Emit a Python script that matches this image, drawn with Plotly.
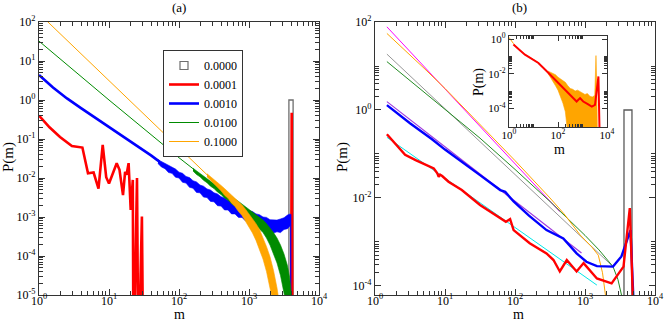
import plotly.graph_objects as go

# values, stored as log10(m), log10(P)
# -7 stands for "zero / below the axis"
legend_names = ["0.0000", "0.0001", "0.0010", "0.0100", "0.1000"]

# ---------------- panel (a) ----------------
bar_a_logm = [3.57, 3.63]
bar_a_logp = 0.0

red_a_logm = [0.00, 0.15, 0.30, 0.47, 0.62, 0.70, 0.78, 0.85, 0.91, 0.96, 1.00, 1.11, 1.15,
              1.20, 1.23, 1.25, 1.28, 1.31, 1.34, 1.35, 1.40, 1.42, 1.47, 1.49, 3.60, 3.61, 3.62]
red_a_logp = [-0.40, -0.70, -0.95, -1.18, -1.22, -1.88, -1.86, -2.27, -1.15, -1.98, -2.14, -1.62, -1.79,
              -2.44, -1.84, -1.92, -1.62, -2.82, -2.05, -7.0, -2.00, -7.0, -2.99, -7.0, -7.0, -0.33, -7.0]

blue_a_logm = [0.0, 0.1, 0.2, 0.3, 0.4, 0.6, 0.8, 1.0, 1.2, 1.4, 1.6, 1.72]
blue_a_logp = [0.64, 0.47, 0.32, 0.18, 0.04, -0.21, -0.45, -0.68, -0.92, -1.16, -1.42, -1.58]
# noisy part: (log m, upper edge, lower edge)
blue_a_band = [
    (1.70, -1.53, -1.63), (1.75, -1.58, -1.72), (1.80, -1.63, -1.76), (1.85, -1.67, -1.86),
    (1.90, -1.74, -1.88), (1.95, -1.77, -1.98), (2.00, -1.85, -2.00), (2.05, -1.88, -2.11),
    (2.10, -1.96, -2.13), (2.15, -1.99, -2.24), (2.20, -2.07, -2.26), (2.25, -2.10, -2.37),
    (2.30, -2.18, -2.38), (2.35, -2.21, -2.49), (2.40, -2.28, -2.50), (2.45, -2.31, -2.60),
    (2.50, -2.38, -2.61), (2.55, -2.41, -2.71), (2.60, -2.48, -2.72), (2.65, -2.51, -2.82),
    (2.70, -2.57, -2.82), (2.75, -2.60, -2.92), (2.80, -2.66, -2.92), (2.85, -2.69, -3.01),
    (2.90, -2.75, -3.01), (2.95, -2.77, -3.10), (3.00, -2.84, -3.10), (3.05, -2.86, -3.19),
    (3.10, -2.92, -3.19), (3.15, -2.94, -3.28), (3.20, -3.00, -3.27), (3.25, -3.01, -3.35),
    (3.30, -3.07, -3.34), (3.35, -3.07, -3.41), (3.40, -3.08, -3.38), (3.45, -3.05, -3.40),
    (3.50, -3.02, -3.32), (3.55, -2.95, -3.30), (3.59, -2.92, -3.22), (3.60, -2.94, -7.0),
]

green_a_logm = [0.0, 1.0, 2.0, 2.22]
green_a_logp = [1.51, 0.00, -1.48, -1.79]
green_a_band = [
    (2.20, -1.75, -1.82), (2.25, -1.82, -1.91), (2.30, -1.88, -1.97), (2.35, -1.95, -2.06),
    (2.40, -2.01, -2.12), (2.45, -2.08, -2.21), (2.50, -2.15, -2.27), (2.55, -2.21, -2.36),
    (2.60, -2.28, -2.42), (2.65, -2.34, -2.51), (2.70, -2.41, -2.57), (2.75, -2.47, -2.66),
    (2.80, -2.54, -2.72), (2.85, -2.60, -2.81), (2.90, -2.67, -2.88), (2.95, -2.73, -2.97),
    (3.00, -2.80, -3.04), (3.05, -2.86, -3.13), (3.10, -2.93, -3.21), (3.15, -3.00, -3.31),
    (3.20, -3.08, -3.40), (3.25, -3.17, -3.54), (3.30, -3.28, -3.72), (3.35, -3.40, -3.94),
    (3.40, -3.54, -4.18), (3.45, -3.72, -4.50), (3.50, -3.95, -4.90), (3.55, -4.25, -5.40),
    (3.58, -4.55, -7.0), (3.61, -5.10, -7.0),
]

orange_a_logm = [0.0, 1.0, 2.0, 2.42]
orange_a_logp = [2.22, 0.50, -1.23, -1.95]
orange_a_band = [
    (2.40, -1.89, -1.97), (2.45, -1.96, -2.06), (2.50, -2.04, -2.15), (2.55, -2.11, -2.25),
    (2.60, -2.19, -2.33), (2.65, -2.27, -2.44), (2.70, -2.35, -2.52), (2.75, -2.43, -2.64),
    (2.80, -2.52, -2.73), (2.85, -2.60, -2.86), (2.90, -2.69, -2.96), (2.95, -2.80, -3.11),
    (3.00, -2.92, -3.24), (3.05, -3.04, -3.41), (3.10, -3.17, -3.60), (3.15, -3.32, -3.82),
    (3.20, -3.52, -4.08), (3.25, -3.76, -4.40), (3.30, -4.02, -4.78), (3.35, -4.37, -5.25),
    (3.40, -4.82, -7.0), (3.45, -5.40, -7.0),
]

# ---------------- panel (b) ----------------
bar_b_logm = [3.557, 3.671]
bar_b_logp = 0.0

magenta_b_logm = [0.17, 2.64]
magenta_b_logp = [1.89, -2.31]
orange_b_logm = [0.17, 0.30, 0.50, 0.70, 1.00, 1.50, 2.00, 2.50, 2.70, 2.93, 3.10, 3.19, 3.25, 3.30, 3.36]
orange_b_logp = [1.74, 1.55, 1.26, 0.95, 0.49, -0.33, -1.15, -2.00, -2.36, -2.84, -3.12, -3.30, -3.70, -4.30, -5.0]
gray_b_logm = [0.17, 3.40]
gray_b_logp = [1.27, -3.56]
green_b_logm = [0.17, 0.40, 0.67, 1.00, 1.50, 2.00, 2.50, 3.00, 3.20, 3.40, 3.47, 3.55]
green_b_logp = [1.10, 0.80, 0.45, 0.02, -0.64, -1.35, -2.08, -2.85, -3.18, -3.56, -3.85, -4.40]
violet_b_logm = [0.17, 2.95]
violet_b_logp = [0.19, -3.25]
blue_b_logm = [0.17, 0.50, 0.81, 1.00, 1.50, 1.79, 1.86, 1.98, 2.20, 2.45, 2.69, 2.88, 3.02,
               3.17, 3.40, 3.52, 3.65, 3.71]
blue_b_logp = [0.11, -0.30, -0.66, -0.90, -1.48, -1.82, -1.86, -2.08, -2.40, -2.73, -2.92, -3.26, -3.45,
               -3.55, -3.56, -3.33, -2.73, -5.0]
cyan_b_logm = [0.17, 3.17]
cyan_b_logp = [-0.62, -3.98]
red_b_logm = [0.17, 0.43, 0.58, 0.67, 0.77, 0.84, 0.89, 0.91, 0.93, 0.96, 1.05, 1.24, 1.50, 1.69,
              1.83, 1.87, 1.93, 1.98, 2.21, 2.45, 2.55, 2.64, 2.74, 2.88, 2.98, 3.17, 3.38, 3.55,
              3.64, 3.70]
red_b_logp = [-0.55, -1.02, -1.14, -1.21, -1.29, -1.33, -1.44, -1.52, -1.47, -1.50, -1.63, -1.82, -2.16, -2.35,
              -2.50, -2.54, -2.48, -2.73, -3.03, -3.26, -3.41, -3.67, -3.41, -3.67, -3.48, -3.83, -3.94, -3.56,
              -2.23, -5.0]

# ---------------- inset of (b) ----------------
red_in_logm = [0.18, 0.40, 0.65, 0.75, 0.86, 1.00, 1.20, 1.50, 1.88, 2.15, 2.40, 2.56, 2.76, 2.90,
               3.03, 3.20, 3.38, 3.51, 3.65, 3.72]
red_in_logp = [-0.31, -0.60, -0.90, -0.98, -1.09, -1.20, -1.38, -1.80, -2.35, -2.74, -3.05, -3.32, -3.61, -3.41,
               -3.61, -3.75, -3.90, -3.80, -2.16, -7.0]
orange_in_logm = [0.0, 0.18, 0.40, 0.65, 1.00, 1.20, 1.50, 1.62]
orange_in_logp = [0.10, -0.25, -0.58, -0.88, -1.18, -1.36, -1.78, -1.93]
orange_in_band = [
    (1.60, -1.85, -2.00), (1.70, -1.92, -2.22), (1.80, -2.00, -2.45), (1.90, -2.06, -2.70),
    (2.00, -2.20, -2.95), (2.10, -2.30, -3.30), (2.20, -2.45, -3.70), (2.30, -2.50, -4.20),
    (2.40, -2.70, -5.50), (2.50, -2.85, -7.0), (2.60, -2.90, -7.0), (2.70, -3.00, -7.0),
    (2.80, -2.95, -7.0), (2.90, -3.05, -7.0), (3.00, -3.10, -7.0), (3.10, -3.20, -7.0),
    (3.20, -3.15, -7.0), (3.30, -3.30, -7.0), (3.40, -3.35, -7.0), (3.50, -3.25, -7.0),
    (3.55, -0.95, -7.0), (3.58, -2.50, -7.0), (3.62, -7.0, -7.0),
]

RED = "rgb(255,0,0)"
BLUE = "rgb(0,0,255)"
GREEN = "rgb(0,139,0)"
ORANGE = "rgb(255,165,0)"
FONT = "Liberation Serif"

fig = go.Figure()


def p(v):
    return [10 ** a for a in v]


def line(lm, lp, color, width, xa="x", ya="y", name=None, legend=False):
    fig.add_trace(go.Scatter(x=p(lm), y=p(lp), mode="lines", line=dict(color=color, width=width),
                             xaxis=xa, yaxis=ya, name=name, showlegend=legend, hoverinfo="skip"))


def band(rows, color, xa="x", ya="y"):
    lm = [r[0] for r in rows]
    hi = [r[1] for r in rows]
    lo = [r[2] for r in rows]
    fig.add_trace(go.Scatter(x=p(lm + lm[::-1]), y=p(hi + lo[::-1]), mode="lines", fill="toself",
                             fillcolor=color, line=dict(color=color, width=0.6),
                             xaxis=xa, yaxis=ya, showlegend=False, hoverinfo="skip"))


def bar(lm, lp, color, xa, ya):
    fig.add_trace(go.Scatter(x=p([lm[0], lm[0], lm[1], lm[1]]), y=p([-7.0, lp, lp, -7.0]), mode="lines",
                             line=dict(color=color, width=1.3), xaxis=xa, yaxis=ya,
                             showlegend=False, hoverinfo="skip"))


# legend-only marker for the 0.0000 set
fig.add_trace(go.Scatter(x=[None], y=[None], mode="markers", name=legend_names[0],
                         marker=dict(symbol="square-open", size=8, color="rgb(110,110,110)",
                                     line=dict(width=1.2)), xaxis="x", yaxis="y"))

# panel (a)
bar(bar_a_logm, bar_a_logp, "rgb(110,110,110)", "x", "y")
line(red_a_logm, red_a_logp, RED, 2.6, name=legend_names[1], legend=True)
line(blue_a_logm, blue_a_logp, BLUE, 2.6, name=legend_names[2], legend=True)
band(blue_a_band, BLUE)
line(green_a_logm, green_a_logp, GREEN, 1, name=legend_names[3], legend=True)
band(green_a_band, GREEN)
line(orange_a_logm, orange_a_logp, ORANGE, 1, name=legend_names[4], legend=True)
band(orange_a_band, ORANGE)

# panel (b)
bar(bar_b_logm, bar_b_logp, "rgb(90,90,90)", "x2", "y2")
line(cyan_b_logm, cyan_b_logp, "rgb(0,230,230)", 1, "x2", "y2")
line(violet_b_logm, violet_b_logp, "rgb(160,60,220)", 1.2, "x2", "y2")
line(gray_b_logm, gray_b_logp, "rgb(150,150,150)", 1, "x2", "y2")
line(magenta_b_logm, magenta_b_logp, "rgb(255,0,255)", 1, "x2", "y2")
line(green_b_logm, green_b_logp, "rgb(34,139,34)", 1, "x2", "y2")
line(orange_b_logm, orange_b_logp, ORANGE, 1, "x2", "y2")
line(blue_b_logm, blue_b_logp, BLUE, 2.4, "x2", "y2")
line(red_b_logm, red_b_logp, RED, 2.4, "x2", "y2")

# inset
line(orange_in_logm, orange_in_logp, ORANGE, 1, "x3", "y3")
band(orange_in_band, ORANGE, "x3", "y3")
line(red_in_logm, red_in_logp, RED, 2, "x3", "y3")


def sup(k):
    return "10<sup>%d</sup>" % k


def minors(decades, last=9):
    return [k * 10.0 ** d for d in decades for k in range(2, last + 1)]


def axis(domain, anchor, rng, major, minor_vals, size=12, major_len=6, minor_len=3.5, standoff=0):
    return dict(type="log", domain=domain, anchor=anchor, range=rng,
                tickmode="array", tickvals=[10.0 ** k for k in major], ticktext=[sup(k) for k in major],
                ticks="inside", ticklen=major_len, tickwidth=1, tickcolor="#333",
                minor=dict(tickmode="array", tickvals=minor_vals, ticks="inside", ticklen=minor_len,
                           tickwidth=1, tickcolor="#333", showgrid=False),
                showline=True, linecolor="#333", linewidth=1.2, mirror="allticks",
                showgrid=False, zeroline=False, tickfont=dict(family=FONT, size=size, color="black"),
                ticklabelstandoff=standoff, automargin=False)


W, H = 664, 323
ydom = [(H - 295) / H, (H - 22) / H]

fig.update_layout(
    width=W, height=H, margin=dict(l=0, r=0, t=0, b=0),
    paper_bgcolor="white", plot_bgcolor="rgba(0,0,0,0)",
    font=dict(family=FONT, color="black"),
    xaxis=axis([39 / W, 319 / W], "y", [0, 4], [0, 1, 2, 3, 4], minors(range(0, 4)), standoff=-6),
    yaxis=axis(ydom, "x", [-5, 2], list(range(-5, 3)), minors(range(-5, 2))),
    xaxis2=axis([375 / W, 655 / W], "y2", [0, 4], [0, 1, 2, 3, 4], minors(range(0, 4)), standoff=-6),
    yaxis2=axis(ydom, "x2", [-4.205, 2], [-4, -2, 0, 2], minors([-4, -2, 0], 10)),
    xaxis3=axis([509 / W, 607 / W], "y3", [0, 4], [0, 2, 4], minors([0, 2], 10), size=11,
                major_len=5, minor_len=3, standoff=-3),
    yaxis3=axis([(H - 127.3) / H, (H - 35.7) / H], "x3", [-5.1, 0.2], [-4, -2, 0],
                minors([-4, -2], 10), size=11, major_len=5, minor_len=3),
    legend=dict(x=163 / W, y=(H - 50) / H, xanchor="left", yanchor="top",
                bordercolor="#333", borderwidth=1, bgcolor="white",
                font=dict(family=FONT, size=12), itemwidth=30, tracegroupgap=0),
    showlegend=True,
)

ann = [
    ("(a)", 179, 8, 13, 0), ("(b)", 519, 8, 13, 0),
    ("m", 179, 314, 14, 0), ("m", 518, 314, 14, 0),
    ("P(m)", 9, 157, 15, -90), ("P(m)", 343, 157, 15, -90),
    ("P(m)", 479, 82, 14, -90), ("m", 559, 149, 14, 0),
]
for text, x, y, s, ang in ann:
    fig.add_annotation(text=text, x=x / W, y=(H - y) / H, xref="paper", yref="paper",
                       showarrow=False, textangle=ang, font=dict(family=FONT, size=s, color="black"),
                       xanchor="center", yanchor="middle")

# the page's default body margin would shift the whole figure by 8 px
fig.write_html("out.html", config={"displayModeBar": False},
               post_script="document.body.style.margin='0';")
